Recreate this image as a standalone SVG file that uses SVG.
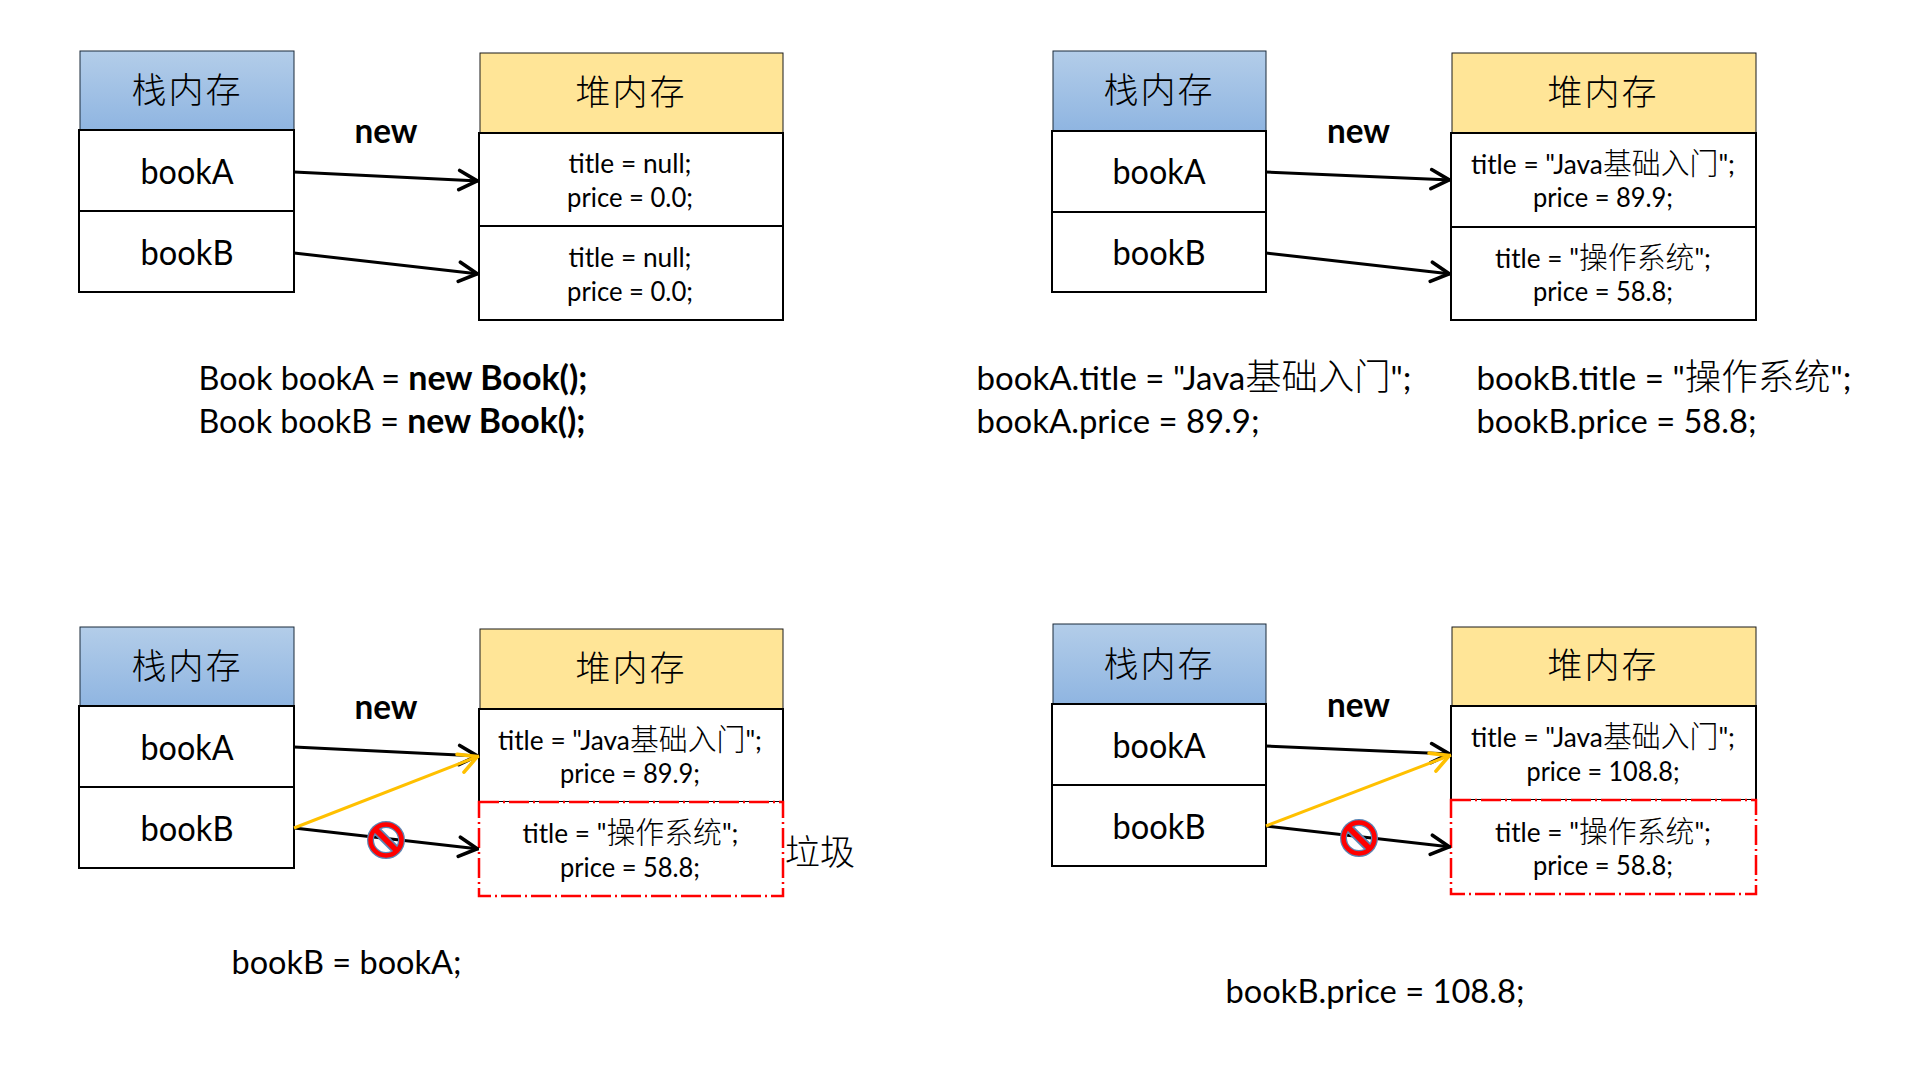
<svg xmlns="http://www.w3.org/2000/svg" width="1920" height="1080" viewBox="0 0 1920 1080">
<defs>
<linearGradient id="stackFill" x1="0" y1="0" x2="0" y2="1"><stop offset="0" stop-color="#b3cde9"/><stop offset="1" stop-color="#8fb5e1"/></linearGradient>
<marker id="ah" markerUnits="userSpaceOnUse" markerWidth="24" markerHeight="24" refX="18.5" refY="10" orient="auto" viewBox="0 0 20 20"><path d="M2 2 L17 10 L2 18" fill="none" stroke="#000" stroke-width="3" stroke-linecap="round" stroke-linejoin="round"/></marker>
<marker id="ay" markerUnits="userSpaceOnUse" markerWidth="24" markerHeight="24" refX="18.5" refY="10" orient="auto" viewBox="0 0 20 20"><path d="M2 2 L17 10 L2 18" fill="none" stroke="#ffc000" stroke-width="3" stroke-linecap="round" stroke-linejoin="round"/></marker>
<g id="nosign">
<circle r="15.5" fill="none" stroke="#5b86b5" stroke-width="7"/>
<line x1="-11" y1="-11" x2="11" y2="11" stroke="#5b86b5" stroke-width="9"/>
<circle r="15.5" fill="none" stroke="#ff0000" stroke-width="4.5"/>
<line x1="-11" y1="-11" x2="11" y2="11" stroke="#ff0000" stroke-width="5.5"/>
</g>
</defs>
<style>
text{font-family:"Lato","Noto Sans CJK SC",sans-serif;fill:#000}
.h{font-family:"Noto Sans CJK SC",sans-serif;font-size:35px;font-weight:300;text-anchor:middle;letter-spacing:2px}
.v{font-size:34px;text-anchor:middle}
.n{font-size:34px;font-weight:700;text-anchor:middle}
.f{font-size:27px;text-anchor:middle}
.c{font-size:33px}
.b{font-weight:700;font-size:1.05em}
.k{font-weight:300;font-size:1.1em}
.hs{fill:url(#stackFill);stroke:#1a2a3a;stroke-width:1}
.hh{fill:#ffe597;stroke:#1a1a1a;stroke-width:1}
.r{fill:#fff;stroke:#000;stroke-width:2}
.g{fill:#fff;stroke:#f00;stroke-width:2.5;stroke-dasharray:20 4 2 4}
.l{fill:none;stroke:#000;stroke-width:3;marker-end:url(#ah)}
.y{fill:none;stroke:#ffc000;stroke-width:3;marker-end:url(#ay)}
</style>
<rect width="1920" height="1080" fill="#fff"/>

<g id="stack1"><rect class="hs" x="80" y="51" width="214" height="79"/><rect class="r" x="79" y="130" width="215" height="81"/><rect class="r" x="79" y="211" width="215" height="81"/>
<text class="h" x="187" y="103">栈内存</text><text class="v" x="187" y="184" textLength="93" lengthAdjust="spacingAndGlyphs">bookA</text><text class="v" x="187" y="265" textLength="93" lengthAdjust="spacingAndGlyphs">bookB</text></g>
<g id="heap1"><rect class="hh" x="480" y="53" width="303" height="80"/><rect class="r" x="479" y="133" width="304" height="93"/><rect class="r" x="479" y="226" width="304" height="94"/>
<text class="h" x="631" y="105">堆内存</text><text class="f" x="630" y="173" textLength="123" lengthAdjust="spacingAndGlyphs">title = null;</text><text class="f" x="630" y="207" textLength="126" lengthAdjust="spacingAndGlyphs">price = 0.0;</text><text class="f" x="630" y="267" textLength="123" lengthAdjust="spacingAndGlyphs">title = null;</text><text class="f" x="630" y="301" textLength="126" lengthAdjust="spacingAndGlyphs">price = 0.0;</text></g>
<g id="label1"><text class="n" x="386" y="143" textLength="63" lengthAdjust="spacingAndGlyphs">new</text>
<text class="c" x="198.500" y="390" textLength="389" lengthAdjust="spacingAndGlyphs">Book bookA = <tspan class="b">new Book();</tspan></text>
<text class="c" x="198.500" y="433" textLength="387" lengthAdjust="spacingAndGlyphs">Book bookB = <tspan class="b">new Book();</tspan></text></g>

<g id="stack2"><rect class="hs" x="1053" y="51" width="213" height="80"/><rect class="r" x="1052" y="131" width="214" height="81"/><rect class="r" x="1052" y="212" width="214" height="80"/>
<text class="h" x="1159" y="103">栈内存</text><text class="v" x="1159" y="184" textLength="93" lengthAdjust="spacingAndGlyphs">bookA</text><text class="v" x="1159" y="265" textLength="93" lengthAdjust="spacingAndGlyphs">bookB</text></g>
<g id="heap2"><rect class="hh" x="1452" y="53" width="304" height="80"/><rect class="r" x="1451" y="133" width="305" height="94"/><rect class="r" x="1451" y="227" width="305" height="93"/>
<text class="h" x="1603" y="105">堆内存</text><text class="f" x="1603" y="174" textLength="264" lengthAdjust="spacingAndGlyphs">title = "Java<tspan class="k">基础入门</tspan>";</text><text class="f" x="1603" y="207" textLength="140" lengthAdjust="spacingAndGlyphs">price = 89.9;</text><text class="f" x="1603" y="268" textLength="216" lengthAdjust="spacingAndGlyphs">title = "<tspan class="k">操作系统</tspan>";</text><text class="f" x="1603" y="301" textLength="140" lengthAdjust="spacingAndGlyphs">price = 58.8;</text></g>
<g id="label2"><text class="n" x="1358.500" y="143" textLength="63" lengthAdjust="spacingAndGlyphs">new</text>
<text class="c" x="976.500" y="390" textLength="435" lengthAdjust="spacingAndGlyphs">bookA.title = "Java<tspan class="k">基础入门</tspan>";</text>
<text class="c" x="976.500" y="433" textLength="283" lengthAdjust="spacingAndGlyphs">bookA.price = 89.9;</text>
<text class="c" x="1476.500" y="390" textLength="375" lengthAdjust="spacingAndGlyphs">bookB.title = "<tspan class="k">操作系统</tspan>";</text>
<text class="c" x="1476.500" y="433" textLength="280" lengthAdjust="spacingAndGlyphs">bookB.price = 58.8;</text></g>

<g id="stack3"><rect class="hs" x="80" y="627" width="214" height="79"/><rect class="r" x="79" y="706" width="215" height="81"/><rect class="r" x="79" y="787" width="215" height="81"/>
<text class="h" x="187" y="679">栈内存</text><text class="v" x="187" y="760" textLength="93" lengthAdjust="spacingAndGlyphs">bookA</text><text class="v" x="187" y="841" textLength="93" lengthAdjust="spacingAndGlyphs">bookB</text></g>
<g id="heap3"><rect class="hh" x="480" y="629" width="303" height="80"/><rect class="r" x="479" y="709" width="304" height="93"/><rect class="g" x="479" y="802" width="304" height="94"/>
<text class="h" x="631" y="681">堆内存</text><text class="f" x="630" y="750" textLength="264" lengthAdjust="spacingAndGlyphs">title = "Java<tspan class="k">基础入门</tspan>";</text><text class="f" x="630" y="783" textLength="140" lengthAdjust="spacingAndGlyphs">price = 89.9;</text><text class="f" x="630.500" y="843" textLength="216" lengthAdjust="spacingAndGlyphs">title = "<tspan class="k">操作系统</tspan>";</text><text class="f" x="630" y="877" textLength="140" lengthAdjust="spacingAndGlyphs">price = 58.8;</text></g>
<g id="label3"><text class="n" x="386" y="719" textLength="63" lengthAdjust="spacingAndGlyphs">new</text>
<text class="h" style="text-anchor:start;letter-spacing:0" x="785" y="865">垃圾</text>
<text class="c" x="231.500" y="974" textLength="230" lengthAdjust="spacingAndGlyphs">bookB = bookA;</text></g>

<g id="stack4"><rect class="hs" x="1053" y="624" width="213" height="80"/><rect class="r" x="1052" y="704" width="214" height="81"/><rect class="r" x="1052" y="785" width="214" height="81"/>
<text class="h" x="1159" y="677">栈内存</text><text class="v" x="1159" y="758" textLength="93" lengthAdjust="spacingAndGlyphs">bookA</text><text class="v" x="1159" y="839" textLength="93" lengthAdjust="spacingAndGlyphs">bookB</text></g>
<g id="heap4"><rect class="hh" x="1452" y="627" width="304" height="79"/><rect class="r" x="1451" y="706" width="305" height="94"/><rect class="g" x="1451" y="800" width="305" height="94"/>
<text class="h" x="1603" y="678">堆内存</text><text class="f" x="1603" y="747" textLength="264" lengthAdjust="spacingAndGlyphs">title = "Java<tspan class="k">基础入门</tspan>";</text><text class="f" x="1603" y="781" textLength="153" lengthAdjust="spacingAndGlyphs">price = 108.8;</text><text class="f" x="1603" y="842" textLength="216" lengthAdjust="spacingAndGlyphs">title = "<tspan class="k">操作系统</tspan>";</text><text class="f" x="1603" y="875" textLength="140" lengthAdjust="spacingAndGlyphs">price = 58.8;</text></g>
<g id="label4"><text class="n" x="1358.500" y="717" textLength="63" lengthAdjust="spacingAndGlyphs">new</text>
<text class="c" x="1225.500" y="1003" textLength="299" lengthAdjust="spacingAndGlyphs">bookB.price = 108.8;</text></g>

<g id="connectors">
<line class="l" x1="294" y1="172" x2="479" y2="181"/>
<line class="l" x1="294" y1="253" x2="479" y2="274"/>
<line class="l" x1="1266" y1="172" x2="1451" y2="180"/>
<line class="l" x1="1266" y1="253" x2="1451" y2="274"/>
<line class="l" x1="294" y1="747" x2="479" y2="756"/>
<line class="l" x1="294" y1="828" x2="479" y2="849"/>
<line class="y" x1="294" y1="828" x2="479" y2="756"/>
<line class="l" x1="1266" y1="746" x2="1451" y2="754"/>
<line class="l" x1="1266" y1="826" x2="1451" y2="847"/>
<line class="y" x1="1266" y1="826" x2="1451" y2="755"/>
<use href="#nosign" x="386" y="840"/>
<use href="#nosign" x="1359" y="838"/>
</g>
</svg>
